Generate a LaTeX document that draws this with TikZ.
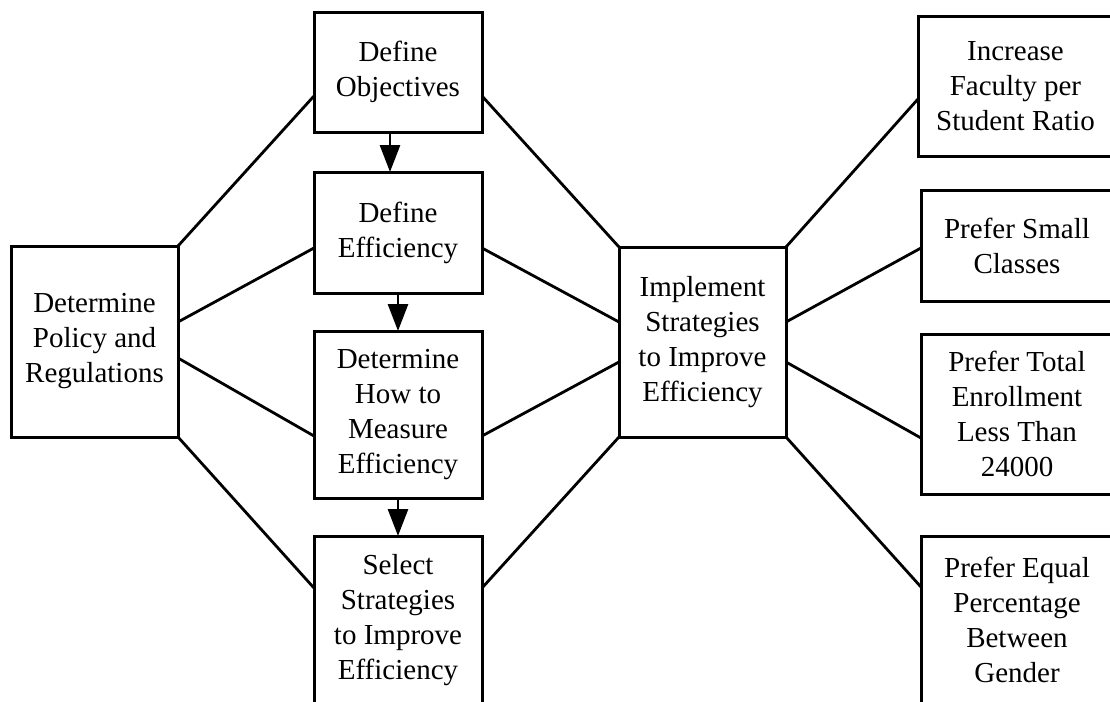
\documentclass[tikz,border=0pt]{standalone}
\usepackage{fontspec}
\setmainfont{Liberation Serif}
\usetikzlibrary{arrows.meta}
\tikzset{box/.style={rectangle, draw, line width=1.5pt, inner sep=0pt, outer sep=0pt,
    align=center, font=\fontsize{14.5pt}{17.5pt}\selectfont}}
\tikzset{link/.style={line width=1.4pt}}
\tikzset{flow/.style={line width=1.4pt, -{Triangle[length=13.5pt,width=10pt]}}}

\begin{document}
\begin{tikzpicture}[x=0.5pt,y=-0.5pt]
  \useasboundingbox (0,0) rectangle (1110,702);
  \clip (0,0) rectangle (1110,702);
  \foreach \x/\y/\w/\h/\name/\lab in {
    94.5/341.5/167/191/{Determine\\Policy and\\Regulations}/policy,
    398/72/168/120/{Define\\Objectives}/obj,
    398/232.5/168/121/{Define\\Efficiency}/eff,
    398/414.5/168/167/{Determine\\How to\\Measure\\Efficiency}/meas,
    398/620/168/168/{Select\\Strategies\\to Improve\\Efficiency}/sel,
    702.5/342/167/190/{Implement\\Strategies\\to Improve\\Efficiency}/impl,
    1015.5/86/195/140/{Increase\\Faculty per\\Student Ratio}/fac,
    1017/245.5/192/111/{Prefer Small\\Classes}/small,
    1017/414/192/160/{Prefer Total\\Enrollment\\Less Than\\24000}/enr,
    1017/620/192/168/{Prefer Equal\\Percentage\\Between\\Gender}/gen%
  } {
    \node[box, minimum width=\w*0.5pt, minimum height=\h*0.5pt] (\lab) at (\x, \y) {\name};
  }
  \foreach \u/\su/\v/\sv in {
    policy.north east/0pt/obj.west/-12pt,
    policy.east/9.75pt/eff.west/-7.75pt,
    policy.east/-8.25pt/meas.west/-10.75pt,
    policy.south east/0pt/sel.west/16pt,
    obj.east/-12pt/impl.north west/0pt,
    eff.east/-7.75pt/impl.west/10pt,
    meas.east/-10.75pt/impl.west/-10pt,
    sel.east/16pt/impl.south west/0pt,
    impl.north east/0pt/fac.west/-6.5pt,
    impl.east/10pt/small.west/-1.25pt,
    impl.east/-10pt/enr.west/-12pt,
    impl.south east/0pt/gen.west/16.5pt%
  }{
    \draw[link] ([yshift=\su]\u) -- ([yshift=\sv]\v);
  }
  \draw[flow] ([xshift=-4pt]obj.south) -- ([xshift=-4pt]eff.north);
  \draw[flow] (eff) -- (meas);
  \draw[flow] (meas) -- (sel);
\end{tikzpicture}
\end{document}
